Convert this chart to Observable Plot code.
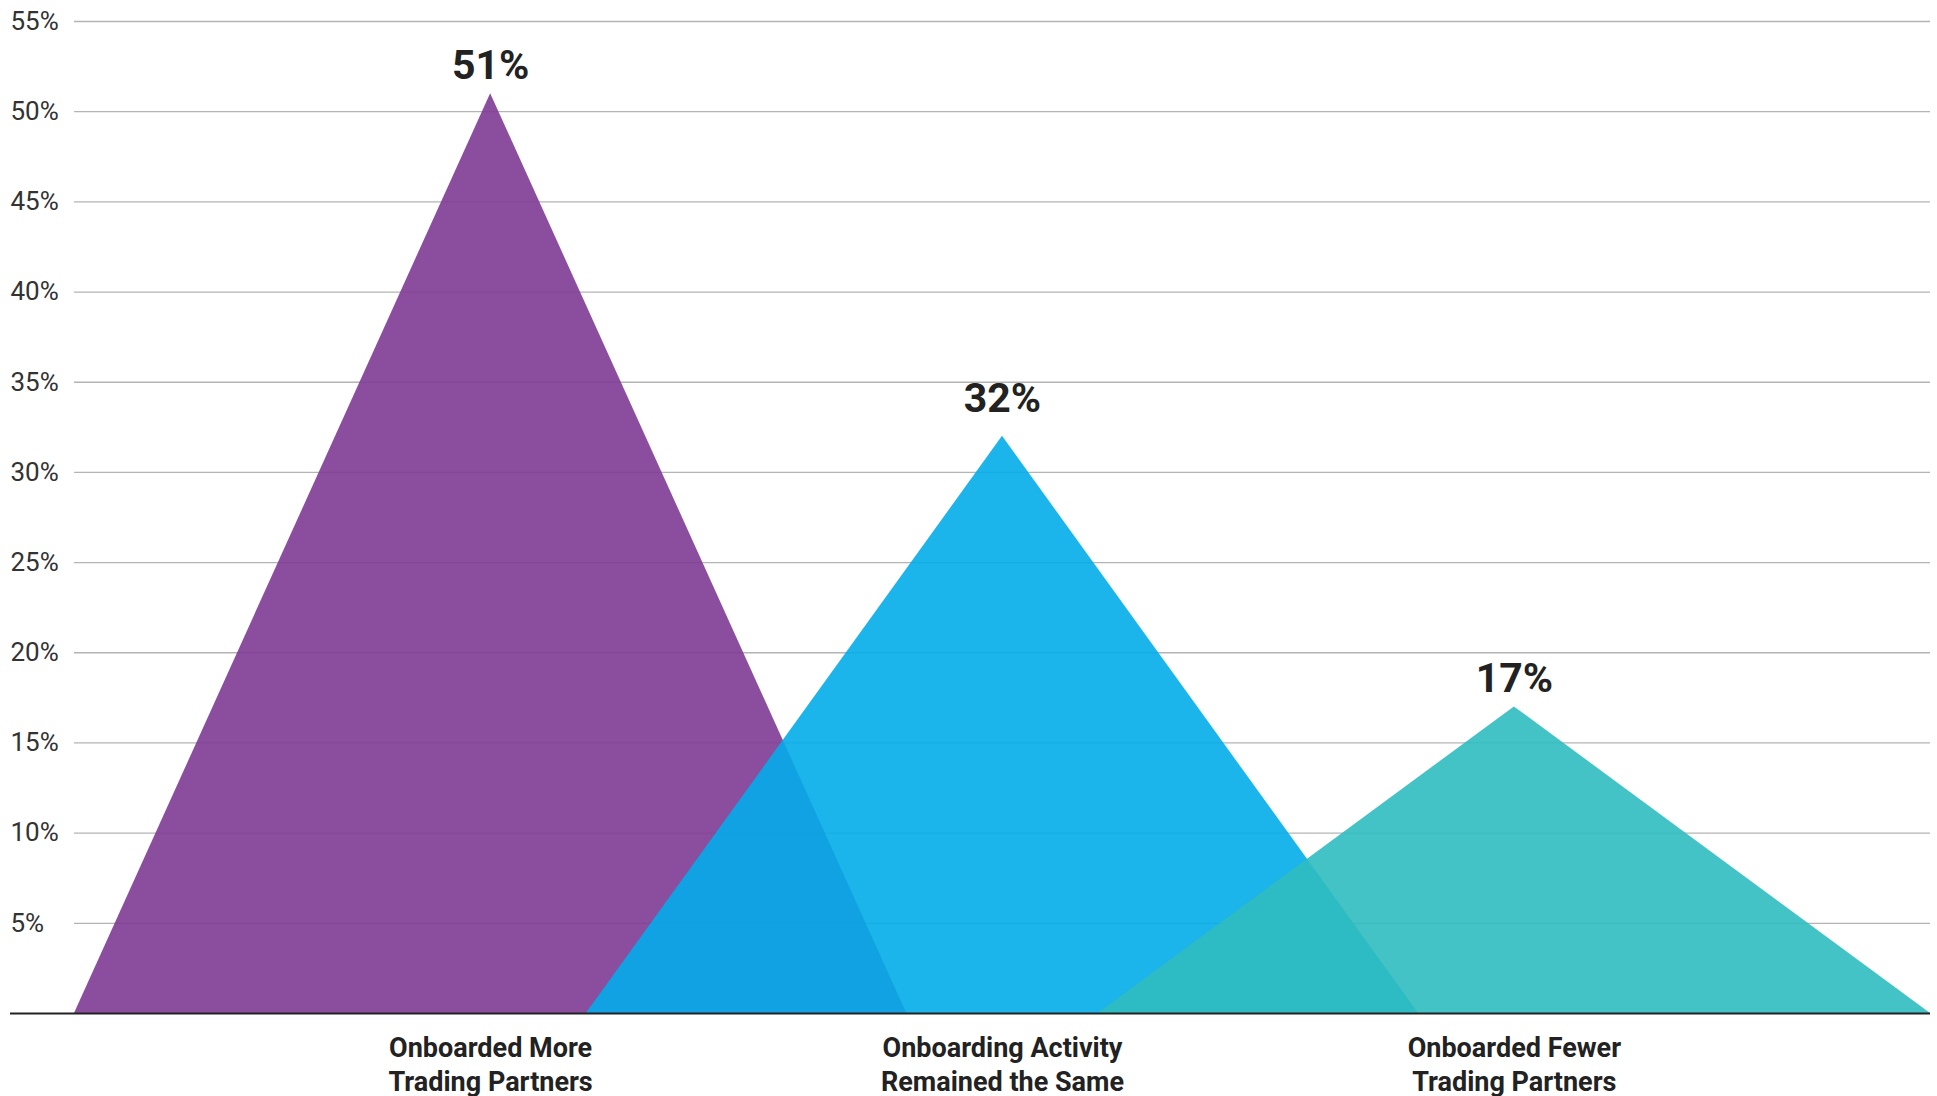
<!DOCTYPE html>
<html>
<head>
<meta charset="utf-8">
<script src="https://cdn.jsdelivr.net/npm/d3@7"></script>
<script src="https://cdn.jsdelivr.net/npm/@observablehq/plot@0.6"></script>
<style>
  html, body { margin: 0; padding: 0; background: #fff; }
  #chart svg { display: block; font-family: Roboto, sans-serif; }
</style>
</head>
<body>
<div id="chart"></div>
<script>
const categories = [
  "Onboarded More\nTrading Partners",
  "Onboarding Activity\nRemained the Same",
  "Onboarded Fewer\nTrading Partners"
];
const values = [51, 32, 17];
const colors = ["#7e3b94", "#02acE9", "#30bcc0"];
const yTicks = [5, 10, 15, 20, 25, 30, 35, 40, 45, 50, 55];

const halfWidth = 0.813;
const pts = [];
categories.forEach((c, i) => {
  pts.push({cat: c, x: i - halfWidth, y: 0});
  pts.push({cat: c, x: i, y: values[i]});
  pts.push({cat: c, x: i + halfWidth, y: 0});
});
const peaks = categories.map((c, i) => ({cat: c, i, x: i, y: values[i]}));

const labelStyle = {
  x: "x", y: "y", text: d => d.y + "%",
  lineAnchor: "bottom", fontSize: 41, fontWeight: 700, fill: "#222"
};

const chart = Plot.plot({
  width: 1937,
  height: 1096,
  marginLeft: 74,
  marginRight: 7,
  marginTop: 21,
  marginBottom: 83,
  style: {fontFamily: "Roboto, sans-serif", background: "#fff"},
  x: {domain: [-halfWidth, 2 + halfWidth], axis: null},
  y: {domain: [0, 55], axis: null},
  color: {domain: categories, range: colors},
  marks: [
    Plot.ruleY(yTicks, {stroke: "#b4b4b4", strokeWidth: 1.3}),
    Plot.text(yTicks, {
      x: -halfWidth, y: d => d, text: d => d + "%",
      textAnchor: "start", dx: -64, fontSize: 26, fill: "#333"
    }),
    Plot.areaY(pts, {x: "x", y: "y", z: "cat", fill: "cat", fillOpacity: 0.9}),
    Plot.ruleY([0], {stroke: "#222", strokeWidth: 2, insetLeft: -64}),
    Plot.text(peaks.filter(d => d.i !== 1), {...labelStyle, dy: -15}),
    Plot.text(peaks.filter(d => d.i === 1), {...labelStyle, dy: -24}),
    Plot.text(peaks, {
      x: "x", y: () => 0, text: "cat",
      lineAnchor: "top", dy: 19, lineHeight: 1.27,
      fontSize: 27, fontWeight: 700, fill: "#222"
    })
  ]
});
document.getElementById("chart").appendChild(chart);
</script>
</body>
</html>
